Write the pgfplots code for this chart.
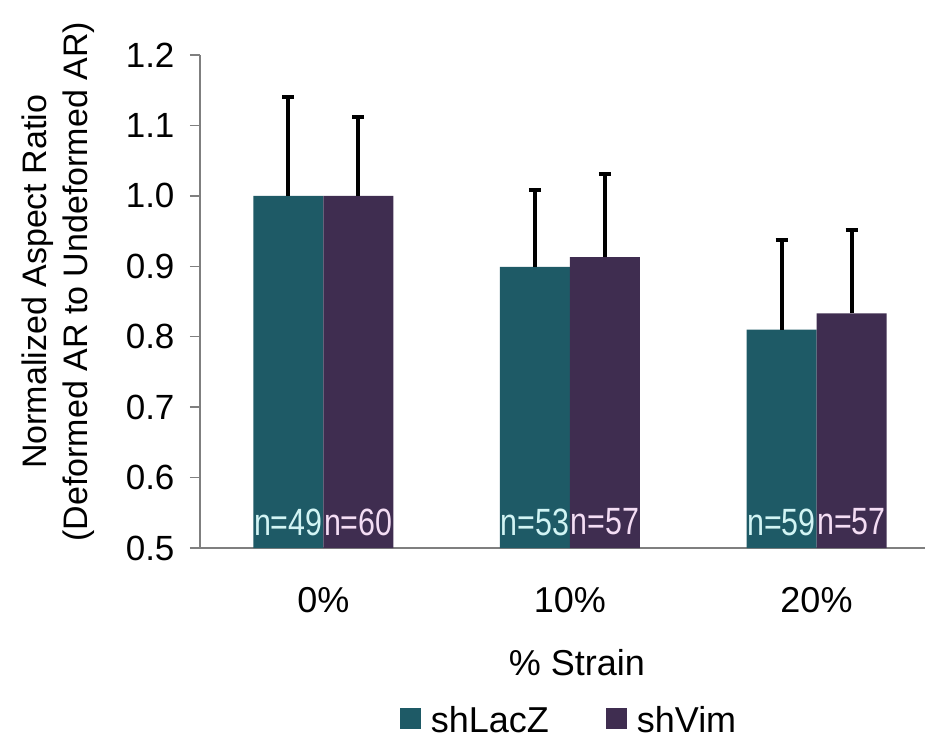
\documentclass[border=0pt]{standalone}
\usepackage{pgfplots}
\pgfplotsset{compat=1.18}
\usepackage{fontspec}
\setmainfont{Liberation Sans}
\newfontfamily\narrowfont[FakeStretch=0.8]{Liberation Sans}
\definecolor{lacz}{HTML}{1E5A66}
\definecolor{vim}{HTML}{3F2D50}
\definecolor{axisgray}{HTML}{7F7F7F}
\definecolor{lacztext}{HTML}{D2F4F4}
\definecolor{vimtext}{HTML}{F4DDF4}

\begin{document}
\begin{tikzpicture}
\useasboundingbox (-200pt,-198pt) rectangle (728pt,548pt);
\begin{axis}[
  at={(0,0)}, anchor=south west,
  scale only axis, width=725pt, height=493pt,
  ybar=0pt, bar width=70pt,
  xmin=-0.5, xmax=2.44, ymin=0.5, ymax=1.2,
  xtick={0,1,2}, xticklabels={0\%,10\%,20\%},
  ytick={0.5,0.6,0.7,0.8,0.9,1.0,1.1,1.2},
  axis x line*=bottom, axis y line*=left,
  axis line style={axisgray, line width=2pt},
  tick align=outside,
  xtick style={draw=none},
  ytick style={axisgray, line width=1.5pt},
  major tick length=10pt,
  yticklabel style={font=\fontsize{35}{35}\selectfont, xshift=-12pt,
    /pgf/number format/.cd, fixed, fixed zerofill, precision=1, assume math mode=true},
  xticklabel style={font=\fontsize{36}{36}\selectfont, yshift=-26pt},
  xlabel={\% Strain},
  xlabel style={font=\fontsize{36}{36}\selectfont, at={(axis description cs:0.52,-0.233)}, anchor=center},
  ylabel={Normalized Aspect Ratio\\(Deformed AR to Undeformed AR)},
  ylabel style={font=\fontsize{34}{41}\selectfont, align=center,
    at={(axis description cs:-0.196,0.54)}, anchor=center},
  legend style={at={(axis description cs:0.509,-0.349)}, anchor=center,
    draw=none, font=\fontsize{36}{36}\selectfont,
    legend columns=2,
    /tikz/every odd column/.append style={column sep=8pt},
    /tikz/every even column/.append style={column sep=55pt}},
  legend image code/.code={\fill[#1] (0pt,-9pt) rectangle (21pt,12pt);},
  error bars/y dir=plus, error bars/y explicit,
  error bars/error bar style={line width=4pt, black},
  error bars/error mark options={rotate=90, mark size=6pt, line width=4pt, black},
  clip=false,
]
\addplot[fill=lacz, draw=none] coordinates {
  (0,1.000) +- (0,0.141)
  (1,0.899) +- (0,0.110)
  (2,0.810) +- (0,0.127)
};
\addplot[fill=vim, draw=none] coordinates {
  (0,1.000) +- (0,0.112)
  (1,0.913) +- (0,0.118)
  (2,0.833) +- (0,0.118)
};
\legend{shLacZ,shVim}
% sample sizes printed at the foot of each bar
\begin{scope}[every node/.style={font=\narrowfont\fontsize{38}{38}\selectfont, inner sep=0pt}]
\node[lacztext] at (axis cs:0,0.537) [xshift=-35pt] {n=49};
\node[vimtext]  at (axis cs:0,0.537) [xshift=35pt]  {n=60};
\node[lacztext] at (axis cs:1,0.537) [xshift=-35pt] {n=53};
\node[vimtext]  at (axis cs:1,0.537) [xshift=35pt]  {n=57};
\node[lacztext] at (axis cs:2,0.537) [xshift=-35pt] {n=59};
\node[vimtext]  at (axis cs:2,0.537) [xshift=35pt]  {n=57};
\end{scope}
\end{axis}
\end{tikzpicture}
\end{document}
